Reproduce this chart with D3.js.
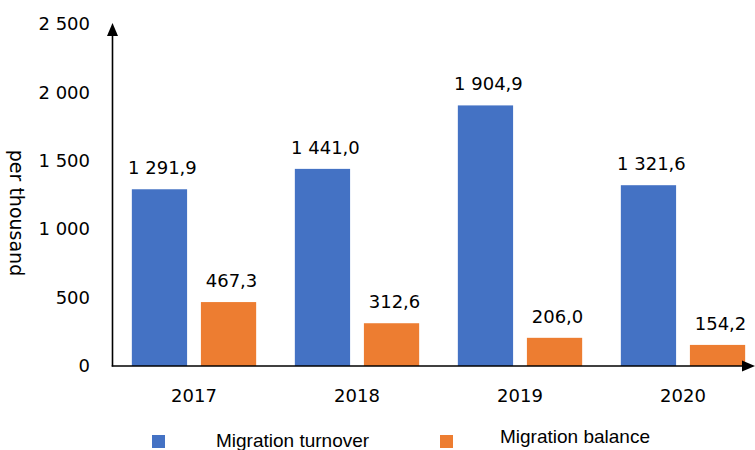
<!DOCTYPE html>
<html>
<head>
<meta charset="utf-8">
<script src="https://cdn.jsdelivr.net/npm/d3@7"></script>
<style>
  body { margin: 0; background: #fff; }
  svg { display: block; }
</style>
</head>
<body>
<svg id="chart" width="755" height="450"></svg>
<script>
// data
const years = ["2017", "2018", "2019", "2020"]
const seriesNames = ["Migration turnover", "Migration balance"]
const turnover = [1291.9, 1441.0, 1904.9, 1321.6]
const balance = [467.3, 312.6, 206.0, 154.2]
const yTicks = [0, 500, 1000, 1500, 2000, 2500]

const colors = { "Migration turnover": "#4472C4", "Migration balance": "#ED7D31" }
const valueFont = "'DejaVu Sans', sans-serif"

const svg = d3.select("#chart")

const rows = years.map((y, i) => ({
    year: y,
    values: [
        { key: seriesNames[0], value: turnover[i] },
        { key: seriesNames[1], value: balance[i] }
    ]
}))

const y = d3.scaleLinear().domain([0, 2500]).range([366, 24])

const x0 = d3.scaleBand()
    .domain(years)
    .range([112.5, 764.5])
    .padding(0)

const x1 = d3.scaleBand()
    .domain(seriesNames)
    .range([0, x0.bandwidth()])
    .paddingInner(0.2)
    .paddingOuter(0.28)

// number format like "1 291,9"
const fmtVal = v => d3.format(",.1f")(v).replace(/,/g, " ").replace(".", ",")
const fmtTick = v => d3.format(",")(v).replace(/,/g, " ")

// bars
const groups = svg.append("g")
    .selectAll("g")
    .data(rows)
    .join("g")
    .attr("transform", d => "translate(" + x0(d.year) + ",0)")

groups.selectAll("rect")
    .data(d => d.values)
    .join("rect")
    .attr("x", d => x1(d.key))
    .attr("y", d => y(d.value))
    .attr("width", x1.bandwidth())
    .attr("height", d => y(0) - y(d.value))
    .attr("fill", d => colors[d.key])

groups.selectAll("text")
    .data(d => d.values)
    .join("text")
    .attr("x", d => x1(d.key) + x1.bandwidth() / 2 + 3)
    .attr("y", d => y(d.value) - 15)
    .attr("text-anchor", "middle")
    .attr("font-family", valueFont)
    .attr("font-size", 18)
    .attr("fill", "#000")
    .text(d => fmtVal(d.value))

// y axis (labels only, no ticks)
const yAxis = svg.append("g")
    .attr("transform", "translate(90,0)")
    .call(d3.axisLeft(y).tickValues(yTicks).tickSize(0).tickPadding(0).tickFormat(fmtTick))
yAxis.select(".domain").remove()
yAxis.selectAll("text")
    .attr("font-family", valueFont)
    .attr("font-size", 18)
    .attr("fill", "#000")

// x axis labels
const xAxis = svg.append("g")
    .attr("transform", "translate(0,389)")
    .call(d3.axisBottom(x0).tickSize(0).tickPadding(0))
xAxis.select(".domain").remove()
xAxis.selectAll("text")
    .attr("font-family", valueFont)
    .attr("font-size", 18)
    .attr("fill", "#000")

// axis lines with arrow heads
const x0Pos = 112.5, y0Pos = y(0)
svg.append("line")
    .attr("x1", x0Pos).attr("y1", y0Pos + 0.5)
    .attr("x2", x0Pos).attr("y2", 34)
    .attr("stroke", "#000").attr("stroke-width", 1.6)
svg.append("path")
    .attr("d", "M" + (x0Pos - 5.5) + ",36 L" + x0Pos + ",23 L" + (x0Pos + 5.5) + ",36 Z")
    .attr("fill", "#000")
svg.append("line")
    .attr("x1", x0Pos - 0.8).attr("y1", y0Pos)
    .attr("x2", 743).attr("y2", y0Pos)
    .attr("stroke", "#000").attr("stroke-width", 1.6)
svg.append("path")
    .attr("d", "M742," + (y0Pos - 5.5) + " L755," + y0Pos + " L742," + (y0Pos + 5.5) + " Z")
    .attr("fill", "#000")

// y axis title
svg.append("text")
    .attr("transform", "translate(10,213) rotate(90)")
    .attr("text-anchor", "middle")
    .attr("font-family", valueFont)
    .attr("font-size", 19)
    .attr("fill", "#000")
    .text("per thousand")

// legend
const legendPos = [
    { sx: 152, sy: 435, tx: 216, ty: 447 },
    { sx: 440, sy: 435, tx: 500, ty: 443 }
]
const legend = svg.append("g")
    .selectAll("g")
    .data(seriesNames)
    .join("g")
legend.append("rect")
    .attr("x", (d, i) => legendPos[i].sx)
    .attr("y", (d, i) => legendPos[i].sy)
    .attr("width", 13)
    .attr("height", 13)
    .attr("fill", d => colors[d])
legend.append("text")
    .attr("x", (d, i) => legendPos[i].tx)
    .attr("y", (d, i) => legendPos[i].ty)
    .attr("font-family", "'Liberation Sans', Arial, sans-serif")
    .attr("font-size", 19)
    .attr("fill", "#000")
    .text(d => d)
</script>
</body>
</html>
